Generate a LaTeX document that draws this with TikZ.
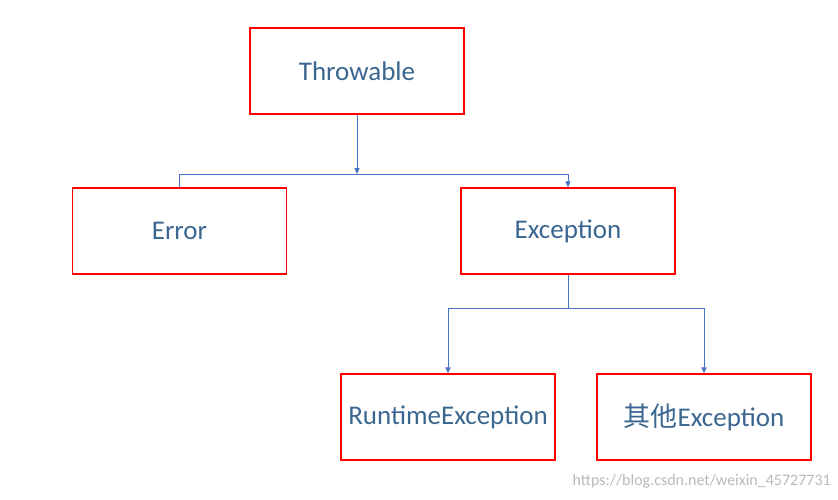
\documentclass[tikz,border=0pt]{standalone}
\usepackage{fontspec}
\setmainfont{Carlito}
\newfontfamily\cjk{Noto Sans CJK SC}
\usetikzlibrary{arrows.meta}
\definecolor{boxred}{HTML}{FF0000}
\definecolor{txt}{HTML}{3A6690}
\definecolor{ln}{HTML}{4472C4}
\begin{document}
\begin{tikzpicture}[x=1pt,y=-1pt,
  cls/.style={draw=boxred,line width=1.5pt,minimum width=214pt,minimum height=86pt,text=txt,font=\fontsize{27}{30}\selectfont,inner sep=0pt},
  conn/.style={draw=ln,line width=0.9pt},
  arr/.style={conn,-{Triangle[width=5pt,length=6pt]}}]
\useasboundingbox (0,0) rectangle (838,499);
\node[cls] (t) at (357,71) {Throwable};
\node[cls] (e) at (179.5,231) {Error};
\node[cls] (x) at (568,231) {Exception};
\node[cls] (r) at (448,417) {RuntimeException};
\node[cls] (o) at (704,417) {{\cjk 其他}Exception};
\coordinate (j1) at (357,174);
\coordinate (j2) at (568,308);
\draw[arr] (t.south) -- (j1);
\draw[conn] (e.north) |- (j1);
\draw[arr] (j1) -| (x.north);
\draw[conn] (x.south) -- (j2);
\draw[arr] (j2) -| (r.north);
\draw[arr] (j2) -| (o.north);
\node[anchor=east,text=gray!55,font=\fontsize{16}{18}\selectfont,inner sep=0pt] (w) at (831,481) {https://blog.csdn.net/weixin\_45727731};
\end{tikzpicture}
\end{document}
